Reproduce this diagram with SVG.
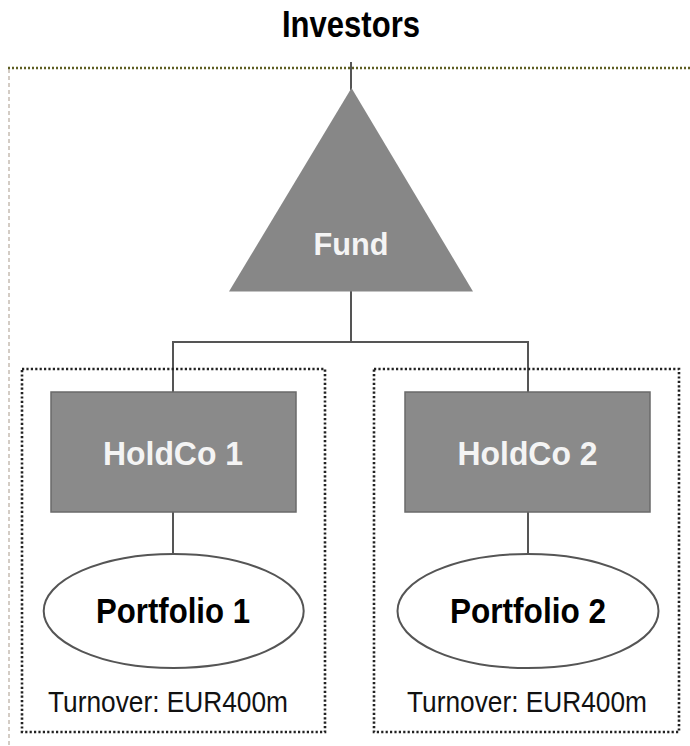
<svg xmlns="http://www.w3.org/2000/svg" width="690" height="746" viewBox="0 0 690 746">
<style>
.conn{stroke:#555;stroke-width:2;fill:none}
.box{fill:none;stroke:#222;stroke-width:2.6;stroke-dasharray:2.2 2.2}
.dark{fill:#8a8a8a;stroke:#6a6a6a;stroke-width:1.5}
.ell{fill:#fff;stroke:#555;stroke-width:2}
.wt{font-family:"Liberation Sans",Arial,sans-serif;font-weight:bold;fill:#f4f4f4;text-anchor:middle}
.bt{font-family:"Liberation Sans",Arial,sans-serif;font-weight:bold;fill:#000;text-anchor:middle}
.nt{font-family:"Liberation Sans",Arial,sans-serif;fill:#111;text-anchor:middle}
</style>
<rect width="690" height="746" fill="#fff"/>
<g id="frame">
<line x1="8" y1="68" x2="690" y2="68" stroke="#5e5e22" stroke-width="2.5" stroke-dasharray="2 2"/>
<line x1="9" y1="69" x2="9" y2="746" stroke="#a8998a" stroke-width="1" stroke-dasharray="4 3"/>
</g>
<g id="connectors">
<line class="conn" x1="351" y1="62" x2="351" y2="90"/>
<polyline class="conn" points="351,291 351,342 173,342 173,392"/>
<polyline class="conn" points="351,342 528,342 528,392"/>
<line class="conn" x1="173" y1="512" x2="173" y2="554"/>
<line class="conn" x1="528" y1="512" x2="528" y2="554"/>
</g>
<g id="investors">
<text class="bt" x="351" y="37" font-size="36" textLength="138" lengthAdjust="spacingAndGlyphs">Investors</text>
</g>
<g id="group1">
<rect class="box" x="22" y="369" width="303" height="363"/>
</g>
<g id="group2">
<rect class="box" x="374" y="369" width="305" height="363"/>
</g>
<g id="fund">
<polygon points="351.5,88 229,291.5 473,291.5" fill="#878787"/>
<text class="wt" x="351" y="255" font-size="31" textLength="75" lengthAdjust="spacingAndGlyphs">Fund</text>
</g>
<g id="holdco1">
<rect class="dark" x="51" y="392" width="245" height="120"/>
<text class="wt" x="173" y="465" font-size="33" textLength="140" lengthAdjust="spacingAndGlyphs">HoldCo 1</text>
</g>
<g id="holdco2">
<rect class="dark" x="405" y="392" width="245" height="120"/>
<text class="wt" x="527.5" y="465" font-size="33" textLength="140" lengthAdjust="spacingAndGlyphs">HoldCo 2</text>
</g>
<g id="portfolio1">
<ellipse class="ell" cx="173.7" cy="611" rx="130" ry="57"/>
<text class="bt" x="173" y="623" font-size="35" textLength="154" lengthAdjust="spacingAndGlyphs">Portfolio 1</text>
</g>
<g id="portfolio2">
<ellipse class="ell" cx="528" cy="611" rx="130.5" ry="57"/>
<text class="bt" x="528" y="623" font-size="35" textLength="156" lengthAdjust="spacingAndGlyphs">Portfolio 2</text>
</g>
<g id="turnover1">
<text class="nt" x="168" y="712" font-size="29" textLength="240" lengthAdjust="spacingAndGlyphs">Turnover: EUR400m</text>
</g>
<g id="turnover2">
<text class="nt" x="527" y="712" font-size="29" textLength="240" lengthAdjust="spacingAndGlyphs">Turnover: EUR400m</text>
</g>
</svg>
